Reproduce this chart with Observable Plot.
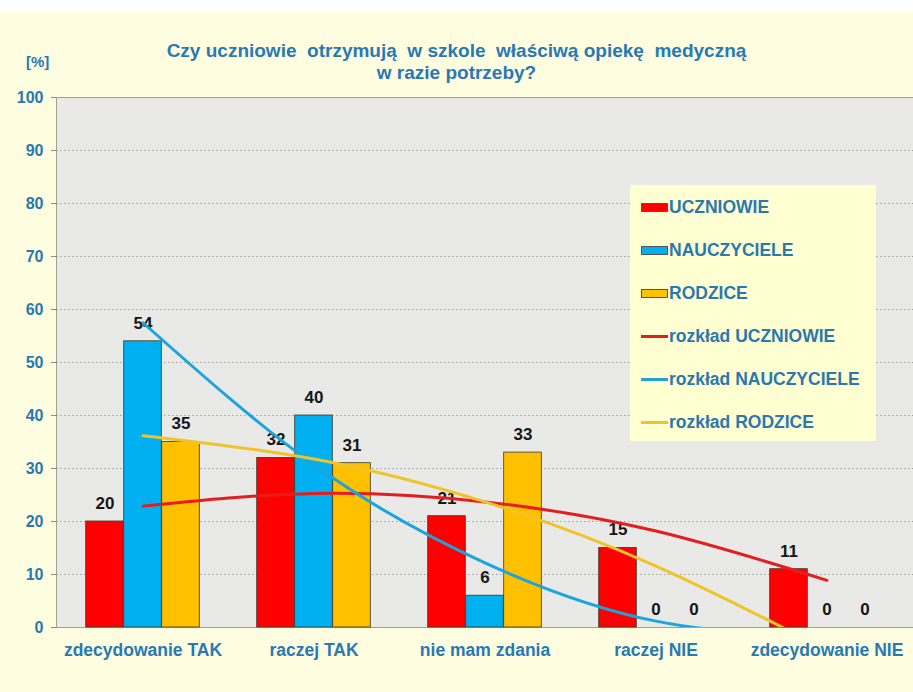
<!DOCTYPE html>
<html><head><meta charset="utf-8">
<script src="https://cdn.jsdelivr.net/npm/d3@7"></script>
<script src="https://cdn.jsdelivr.net/npm/@observablehq/plot@0.6"></script>
<style>
body{margin:0;background:#FFFDE0;font-family:"Liberation Sans",Arial,sans-serif;width:913px;height:692px;overflow:hidden;position:relative;}
#topstrip{position:absolute;left:0;top:0;width:913px;height:12px;background:#fff;}
#title{position:absolute;left:0;width:913px;top:40px;text-align:center;color:#2679B5;font-weight:bold;font-size:19px;line-height:22px;}
#unit{position:absolute;left:26px;top:53px;color:#2679B5;font-weight:bold;font-size:15px;}
#chart{position:absolute;left:0;top:85px;}
#legend{position:absolute;left:630px;top:185px;width:246px;height:256px;background:#FFFFD2;}
.li{position:absolute;left:11px;height:20px;display:flex;align-items:center;color:#2A78AE;font-weight:bold;font-size:17.5px;white-space:nowrap;}
.sw{width:27px;height:9px;margin-right:1px;box-sizing:border-box;border:1px solid #555;}
.ln{width:27px;height:3px;margin-right:1px;}
</style></head>
<body>
<div id="topstrip"></div>
<div id="title">Czy uczniowie&nbsp; otrzymują&nbsp; w szkole&nbsp; właściwą opiekę&nbsp; medyczną<br>w razie potrzeby?</div>
<div id="unit">[%]</div>
<div id="chart"></div>
<div id="legend"></div>
<script>
const categories = ["zdecydowanie TAK", "raczej TAK", "nie mam zdania", "raczej NIE", "zdecydowanie NIE"];
const seriesNames = ["UCZNIOWIE", "NAUCZYCIELE", "RODZICE"];
const uczniowie = [20, 32, 21, 15, 11];
const nauczyciele = [54, 40, 6, 0, 0];
const rodzice = [35, 31, 33, 0, 0];
const trendNames = ["rozkład UCZNIOWIE", "rozkład NAUCZYCIELE", "rozkład RODZICE"];
const trendUczniowie = [22.9, 25.3, 23.7, 18.2, 8.9];
const trendNauczyciele = [57.5, 30.7, 12.2, 1.2, -1.6];
const trendRodzice = [36.2, 31.8, 23.7, 11.6, -4.3];
const yTicks = [0, 10, 20, 30, 40, 50, 60, 70, 80, 90, 100];

const barColors = ["#FF0000", "#00B0F0", "#FFC000"];
const lineColors = ["#E41E1E", "#1CA4DC", "#EFC42A"];
const barValues = [uczniowie, nauczyciele, rodzice];
const trendValues = [trendUczniowie, trendNauczyciele, trendRodzice];

const W = 913, H = 607, mL = 56, mR = 0, mT = 12, mB = 65;
const bandwidth = (W - mL - mR) / categories.length;
const barW = 38;
const offsets = [-barW, 0, barW];
const inset = (bandwidth - barW) / 2;

const rows = seriesNames.map((s, j) => categories.map((c, i) => ({cat: c, series: s, value: barValues[j][i]})));
const trendRows = trendNames.flatMap((s, j) => categories.map((c, i) => ({cat: c, series: s, value: trendValues[j][i]})));

const marks = [
  Plot.frame({fill: "#E9E9E8", stroke: "#A3A38C"}),
  Plot.gridY(yTicks.slice(1, -1), {stroke: "#6f6f6f", strokeOpacity: 0.6, strokeDasharray: "1.5,2.5"}),
];
seriesNames.forEach((s, j) => {
  marks.push(Plot.barY(rows[j], {x: "cat", y: "value", fill: barColors[j], stroke: "#3a3a2a", strokeWidth: 0.8,
    insetLeft: inset, insetRight: inset, dx: offsets[j]}));
});
seriesNames.forEach((s, j) => {
  marks.push(Plot.text(rows[j], {x: "cat", y: "value", text: d => String(d.value), dx: offsets[j], dy: -18,
    fontWeight: "bold", fontSize: 17, fill: "#161616"}));
});
marks.push(Plot.line(trendRows, {x: "cat", y: "value", z: "series", stroke: d => lineColors[trendNames.indexOf(d.series)],
  strokeWidth: 3, curve: "natural", clip: true}));
marks.push(Plot.axisY(yTicks, {tickSize: 5, tickPadding: 8, fontWeight: "bold", fontSize: 16, fill: "#2679B5", stroke: "#8c8c78", label: null}));
marks.push(Plot.axisX({tickSize: 0, tickPadding: 16, fontWeight: "bold", fontSize: 17.5, fill: "#2679B5", label: null}));

const chart = Plot.plot({
  width: W, height: H, marginLeft: mL, marginRight: mR, marginTop: mT, marginBottom: mB,
  style: {fontFamily: "Liberation Sans, Arial, sans-serif", background: "transparent", overflow: "visible"},
  x: {domain: categories, padding: 0, label: null, axis: null},
  y: {domain: [0, 100], label: null, axis: null},
  marks
});
document.getElementById("chart").appendChild(chart);

// legend
const legend = document.getElementById("legend");
const items = [
  ...seriesNames.map((s, j) => ({label: s, type: "bar", color: barColors[j]})),
  ...trendNames.map((s, j) => ({label: s, type: "line", color: lineColors[j]}))
];
items.forEach((it, k) => {
  const d = document.createElement("div");
  d.className = "li";
  d.style.top = (12 + k * 43) + "px";
  const sw = document.createElement("div");
  sw.className = it.type === "bar" ? "sw" : "ln";
  sw.style.background = it.color;
  d.appendChild(sw);
  d.appendChild(document.createTextNode(it.label));
  legend.appendChild(d);
});
</script>
</body></html>
